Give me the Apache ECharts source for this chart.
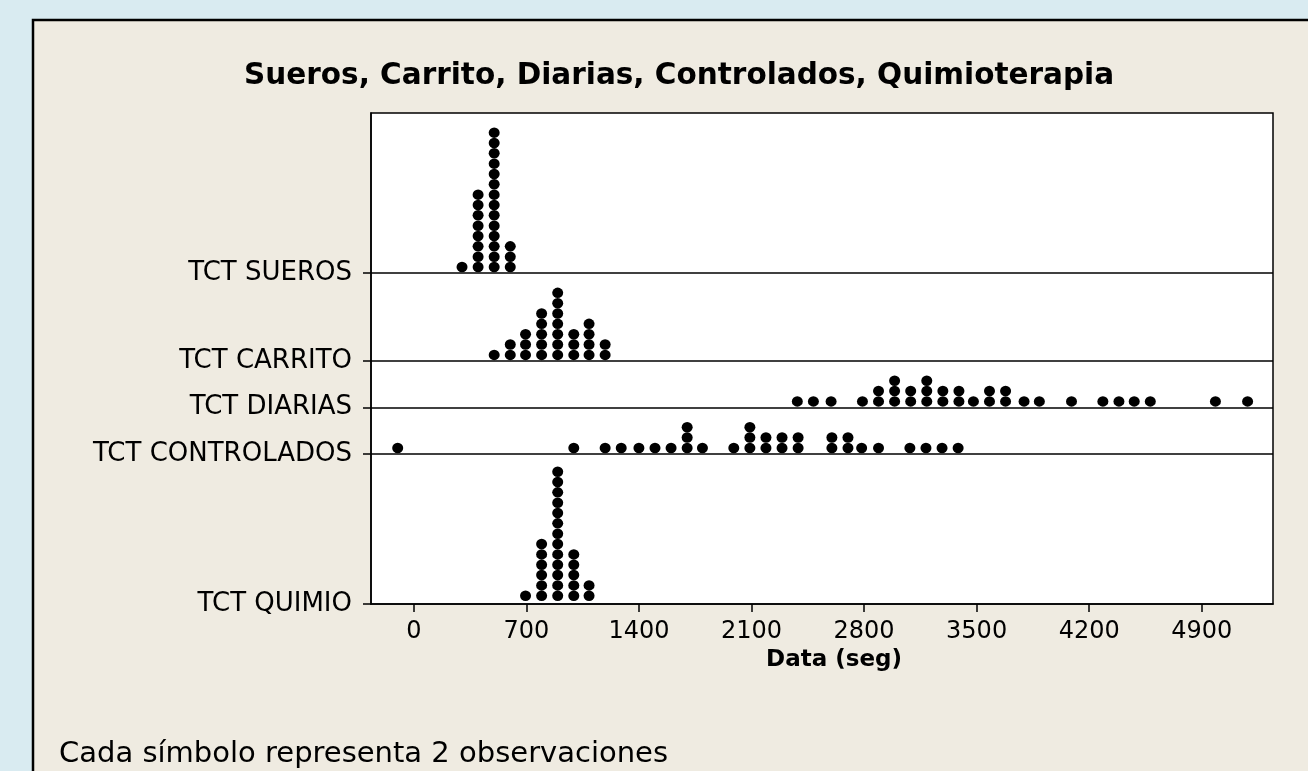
<!DOCTYPE html>
<html>
<head>
<meta charset="utf-8">
<script src="https://cdn.jsdelivr.net/npm/echarts@6/dist/echarts.min.js"></script>
<style>
html, body { margin: 0; padding: 0; background: #d9ebf1; }
#main { width: 1308px; height: 771px; }
</style>
</head>
<body>
<div id="main"></div>
<script>
// grafica de puntos, cada simbolo = 2 observaciones
// centros de grupo (seg) y cantidad de simbolos apilados
var suerosX = [300, 400, 500, 600];
var suerosN = [1, 8, 14, 3];

var carritoX = [500, 600, 695, 795, 895, 995, 1090, 1190];
var carritoN = [1, 2, 3, 5, 7, 3, 4, 2];

var diariasX = [2385, 2485, 2595, 2790, 2890, 2990, 3090, 3190, 3290, 3390, 3480,
                3580, 3680, 3795, 3890, 4090, 4285, 4385, 4480, 4580, 4985, 5185];
var diariasN = [1, 1, 1, 1, 2, 3, 2, 3, 2, 2, 1, 2, 2, 1, 1, 1, 1, 1, 1, 1, 1, 1];

var controladosX = [-100, 995, 1190, 1290, 1400, 1500, 1600, 1700, 1795, 1990, 2090,
                    2190, 2290, 2390, 2600, 2700, 2785, 2890, 3085, 3185, 3285, 3385];
var controladosN = [1, 1, 1, 1, 1, 1, 1, 3, 1, 1, 3, 2, 2, 2, 2, 2, 1, 1, 1, 1, 1, 1];

var quimioX = [695, 795, 895, 995, 1090];
var quimioN = [1, 6, 13, 5, 2];

var xTicks = [0, 700, 1400, 2100, 2800, 3500, 4200, 4900];

// filas de abajo hacia arriba
var rows = [
  { name: 'TCT QUIMIO', x: quimioX, n: quimioN },
  { name: 'TCT CONTROLADOS', x: controladosX, n: controladosN },
  { name: 'TCT DIARIAS', x: diariasX, n: diariasN },
  { name: 'TCT CARRITO', x: carritoX, n: carritoN },
  { name: 'TCT SUEROS', x: suerosX, n: suerosN }
];

var font = 'DejaVu Sans';
var myChart = echarts.init(document.getElementById('main'));

// base de cada fila: alto = pila maxima + 1.5 simbolos
var bases = [];
var labelMap = {};
var yMax = 0;
rows.forEach(function (r) {
  bases.push(yMax);
  labelMap[yMax] = r.name;
  yMax += Math.max.apply(null, r.n) + 1.5;
});

var series = rows.map(function (r, i) {
  var data = [];
  var off = i === 0 ? 0.8 : 0.6;
  for (var j = 0; j < r.x.length; j++) {
    for (var k = 0; k < r.n[j]; k++) {
      data.push([r.x[j], bases[i] + off + k]);
    }
  }
  return {
    type: 'scatter',
    name: r.name,
    data: data,
    symbol: 'circle',
    symbolSize: [11, 10.5],
    itemStyle: { color: '#000', opacity: 1 },
    silent: true
  };
});

// lineas de separacion entre filas
series[0].markLine = {
  silent: true,
  symbol: ['none', 'none'],
  label: { show: false },
  lineStyle: { color: '#000', width: 1.5, type: 'solid' },
  data: bases.slice(1).map(function (b) { return { yAxis: b }; })
};

var option = {
  backgroundColor: '#d9ebf1',
  animation: false,
  graphic: [
    {
      type: 'rect', z: -10,
      shape: { x: 33, y: 20, width: 1400, height: 900 },
      style: { fill: '#efebe1', stroke: '#000', lineWidth: 2.5 }
    },
    {
      type: 'text', z: 10, x: 244, y: 76,
      style: { text: 'Sueros, Carrito, Diarias, Controlados, Quimioterapia',
               font: 'bold 29.5px "DejaVu Sans"', fill: '#000', align: 'left', verticalAlign: 'middle' }
    },
    {
      type: 'text', z: 10, x: 59, y: 754,
      style: { text: 'Cada símbolo representa 2 observaciones',
               font: '29px "DejaVu Sans"', fill: '#000', align: 'left', verticalAlign: 'middle' }
    }
  ],
  grid: {
    show: true, left: 371, right: 35, top: 113, bottom: 167,
    backgroundColor: '#fff', borderColor: '#000', borderWidth: 1.5
  },
  xAxis: {
    type: 'value',
    min: -266, max: 5343,
    name: 'Data (seg)',
    nameLocation: 'middle',
    nameGap: 45,
    nameTextStyle: { fontFamily: font, fontSize: 23, fontWeight: 'bold', color: '#000', padding: [0, 0, 0, 24] },
    axisLine: { show: true, onZero: false, lineStyle: { color: '#000', width: 1.5 } },
    axisTick: { show: true, length: 8, customValues: xTicks, lineStyle: { color: '#000', width: 1.5 } },
    axisLabel: {
      customValues: xTicks, margin: 16, fontFamily: font, fontSize: 24, color: '#000',
      formatter: function (v) { return String(v); }
    },
    splitLine: { show: false }
  },
  yAxis: {
    type: 'value',
    min: 0, max: yMax,
    axisLine: { show: true, onZero: false, lineStyle: { color: '#000', width: 1.5 } },
    axisTick: { show: true, length: 8, customValues: bases, lineStyle: { color: '#000', width: 1.5 } },
    axisLabel: {
      customValues: bases, margin: 19, fontFamily: font, fontSize: 26, color: '#000',
      formatter: function (v) { return labelMap[v] || ''; }
    },
    splitLine: { show: false }
  },
  series: series
};

myChart.setOption(option);
</script>
</body>
</html>
